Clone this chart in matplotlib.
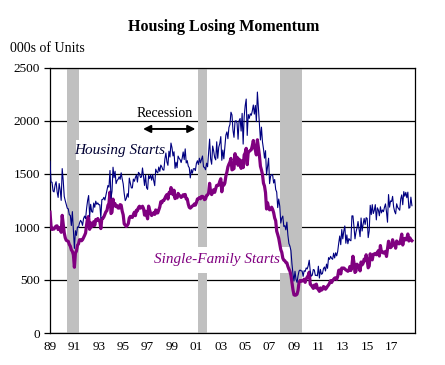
import matplotlib
matplotlib.use("Agg")
import matplotlib.pyplot as plt
from matplotlib.patches import Rectangle

plt.rcParams['font.family'] = ['Liberation Serif', 'DejaVu Serif']

# monthly data, thousands of units (SAAR), Jan 1989 - Sep 2018
housing_starts = [
    1621, 1425, 1422, 1339, 1331, 1397, 1427, 1332, 1279, 1410, 1351, 1251,  # 1989
    1551, 1437, 1289, 1248, 1212, 1177, 1171, 1115, 1110, 1014, 1145, 969,   # 1990
    798, 965, 921, 1001, 996, 1036, 1063, 1049, 1015, 1079, 1103, 1079,      # 1991
    1176, 1250, 1297, 1099, 1214, 1145, 1139, 1226, 1186, 1244, 1214, 1227,  # 1992
    1210, 1210, 1083, 1258, 1260, 1280, 1254, 1300, 1343, 1392, 1376, 1533,  # 1993
    1272, 1337, 1564, 1465, 1526, 1409, 1439, 1450, 1474, 1450, 1511, 1455,  # 1994
    1407, 1316, 1249, 1267, 1314, 1281, 1461, 1416, 1369, 1369, 1452, 1431,  # 1995
    1467, 1491, 1424, 1516, 1504, 1467, 1472, 1557, 1475, 1392, 1489, 1370,  # 1996
    1355, 1486, 1457, 1492, 1442, 1494, 1437, 1390, 1546, 1520, 1510, 1566,  # 1997
    1525, 1584, 1567, 1540, 1536, 1641, 1698, 1614, 1582, 1715, 1660, 1792,  # 1998
    1748, 1670, 1710, 1553, 1611, 1559, 1669, 1648, 1635, 1608, 1648, 1708,  # 1999
    1636, 1737, 1604, 1626, 1575, 1559, 1463, 1541, 1507, 1549, 1551, 1532,  # 2000
    1600, 1625, 1590, 1649, 1605, 1636, 1670, 1567, 1562, 1540, 1602, 1568,  # 2001
    1698, 1829, 1642, 1592, 1764, 1717, 1655, 1633, 1804, 1648, 1753, 1788,  # 2002
    1853, 1629, 1726, 1643, 1751, 1867, 1897, 1833, 1939, 1967, 2083, 2057,  # 2003
    1911, 1846, 1998, 2003, 1981, 1828, 2002, 2024, 1905, 2072, 1782, 2042,  # 2004
    2144, 2207, 1864, 2061, 2025, 2068, 2054, 2095, 2151, 2065, 2147, 1994,  # 2005
    2273, 2119, 1969, 1821, 1942, 1802, 1737, 1650, 1720, 1491, 1570, 1649,  # 2006
    1409, 1480, 1495, 1490, 1415, 1448, 1354, 1330, 1183, 1264, 1197, 1037,  # 2007
    1084, 1103, 1005, 1013, 973, 1046, 923, 844, 820, 777, 652, 560,         # 2008
    490, 582, 505, 478, 540, 585, 594, 586, 585, 534, 588, 581,              # 2009
    614, 604, 636, 687, 583, 536, 546, 599, 594, 543, 545, 539,              # 2010
    630, 518, 600, 554, 561, 608, 623, 585, 650, 610, 711, 694,              # 2011
    723, 704, 695, 753, 708, 757, 728, 770, 847, 915, 833, 976,              # 2012
    888, 962, 1010, 847, 925, 842, 891, 876, 870, 1105, 1105, 1003,          # 2013
    888, 952, 992, 1052, 984, 909, 1085, 962, 1025, 1081, 1024, 1088,        # 2014
    1080, 900, 963, 1205, 1117, 1211, 1127, 1157, 1211, 1067, 1181, 1160,    # 2015
    1106, 1191, 1133, 1161, 1144, 1186, 1218, 1142, 1045, 1306, 1187, 1246,  # 2016
    1240, 1289, 1190, 1147, 1124, 1219, 1185, 1172, 1158, 1265, 1303, 1210,  # 2017
    1334, 1290, 1327, 1276, 1329, 1177, 1184, 1282, 1201,                    # 2018
]

single_family = [
    1140, 1011, 977, 980, 981, 998, 1009, 1011, 976, 994, 980, 950,          # 1989
    1110, 1030, 945, 898, 874, 869, 864, 835, 819, 784, 770, 737,            # 1990
    620, 754, 773, 828, 840, 880, 880, 870, 880, 900, 920, 943,              # 1991
    1020, 1087, 1100, 978, 1040, 1002, 1013, 1050, 1015, 1070, 1061, 1080,   # 1992
    1062, 1054, 985, 1081, 1081, 1096, 1120, 1144, 1154, 1204, 1223, 1329,   # 1993
    1127, 1140, 1263, 1200, 1220, 1192, 1201, 1179, 1178, 1211, 1206, 1150,  # 1994
    1115, 1029, 1018, 1005, 1015, 1031, 1085, 1100, 1093, 1090, 1117, 1139,  # 1995
    1107, 1158, 1153, 1183, 1196, 1178, 1184, 1196, 1174, 1112, 1149, 1116,  # 1996
    1077, 1197, 1160, 1128, 1108, 1127, 1134, 1119, 1161, 1133, 1133, 1162,  # 1997
    1189, 1239, 1228, 1251, 1250, 1270, 1292, 1306, 1264, 1323, 1317, 1372,  # 1998
    1349, 1304, 1347, 1268, 1296, 1275, 1317, 1300, 1293, 1279, 1289, 1304,  # 1999
    1291, 1307, 1264, 1265, 1216, 1185, 1178, 1187, 1198, 1203, 1217, 1206,  # 2000
    1230, 1264, 1266, 1278, 1266, 1288, 1289, 1282, 1258, 1264, 1297, 1302,  # 2001
    1321, 1412, 1329, 1306, 1327, 1352, 1327, 1362, 1393, 1392, 1396, 1431,  # 2002
    1455, 1332, 1412, 1394, 1415, 1480, 1517, 1567, 1592, 1612, 1647, 1539,  # 2003
    1544, 1552, 1692, 1601, 1659, 1582, 1640, 1620, 1553, 1626, 1560, 1680,  # 2004
    1698, 1742, 1588, 1708, 1713, 1722, 1729, 1767, 1816, 1748, 1727, 1680,  # 2005
    1823, 1748, 1675, 1573, 1538, 1495, 1413, 1386, 1324, 1170, 1229, 1184,  # 2006
    1162, 1166, 1187, 1166, 1135, 1085, 1059, 961, 929, 893, 838, 786,       # 2007
    761, 706, 687, 682, 665, 662, 628, 603, 583, 545, 477, 408,              # 2008
    360, 356, 358, 366, 404, 480, 495, 487, 495, 493, 508, 478,              # 2009
    509, 527, 541, 574, 460, 450, 437, 421, 452, 427, 461, 421,              # 2010
    410, 393, 425, 404, 412, 438, 433, 413, 425, 441, 453, 470,              # 2011
    494, 476, 493, 507, 518, 521, 506, 534, 591, 595, 557, 613,              # 2012
    609, 613, 605, 595, 590, 582, 591, 627, 590, 642, 724, 666,              # 2013
    571, 583, 649, 636, 625, 586, 670, 643, 657, 697, 682, 738,              # 2014
    684, 615, 632, 747, 699, 690, 743, 743, 751, 738, 759, 777,              # 2015
    726, 825, 765, 768, 754, 758, 770, 722, 793, 866, 812, 805,              # 2016
    815, 880, 832, 846, 800, 868, 854, 842, 843, 883, 933, 830,              # 2017
    890, 892, 878, 893, 934, 868, 898, 880, 871,                             # 2018
]

# recession periods (decimal years, as drawn)
recessions = [(1990.4, 1991.4), (2001.1, 2001.85), (2007.85, 2009.63)]

tick_years = list(range(1989, 2019, 2))
tick_labels = ["%02d" % (y % 100) for y in tick_years]

x = [1989 + i / 12 for i in range(len(housing_starts))]

fig = plt.figure(figsize=(4.45, 3.65), dpi=100)
ax = fig.add_axes([50 / 445, 1 - 333 / 365, 365 / 445, 265 / 365])

for a, b in recessions:
    ax.axvspan(a, b, color="#c0c0c0", lw=0, zorder=1)

# white boxes behind the series labels
ax.add_patch(Rectangle((1991.15, 1632), 7.1, 189, facecolor="white", edgecolor="none", zorder=1.5))
ax.add_patch(Rectangle((1997.6, 566), 11.1, 250, facecolor="white", edgecolor="none", zorder=1.5))

ax.plot(x, single_family, color="#800080", lw=2.3, zorder=3)
ax.plot(x, housing_starts, color="#000080", lw=0.8, zorder=4)

ax.set_xlim(1989, 2018.92)
ax.set_ylim(0, 2500)
ax.set_yticks(range(0, 2501, 500))
ax.set_xticks(tick_years)
ax.set_xticklabels(tick_labels)
ax.yaxis.grid(True, color="black", lw=0.9, zorder=0.5)
ax.set_axisbelow(True)
ax.tick_params(axis="x", length=0, labelsize=9.5, pad=6)
ax.tick_params(axis="y", length=4, width=0.9, labelsize=9.5, direction="out", pad=3)
for s in ax.spines.values():
    s.set_linewidth(0.9)

ax.text(1994.7, 1726, "Housing Starts", style="italic", fontsize=11,
        ha="center", va="center", color="#000033", zorder=5)
ax.text(2002.7, 689, "Single-Family Starts", style="italic", fontsize=11,
        ha="center", va="center", color="#800080", zorder=5)
ax.text(1998.4, 2075, "Recession", fontsize=10, ha="center", va="center", zorder=5)
ax.annotate("", xy=(2001.15, 1925), xytext=(1996.4, 1925),
            arrowprops=dict(arrowstyle="<|-|>", color="black", lw=1.4, mutation_scale=11),
            zorder=5)

fig.text(224 / 445, 1 - 27 / 365, "Housing Losing Momentum", fontsize=11.5,
         fontweight="bold", ha="center", va="center")
fig.text(10 / 445, 1 - 48 / 365, "000s of Units", fontsize=10, ha="left", va="center")

fig.savefig("out.png", dpi=100)
